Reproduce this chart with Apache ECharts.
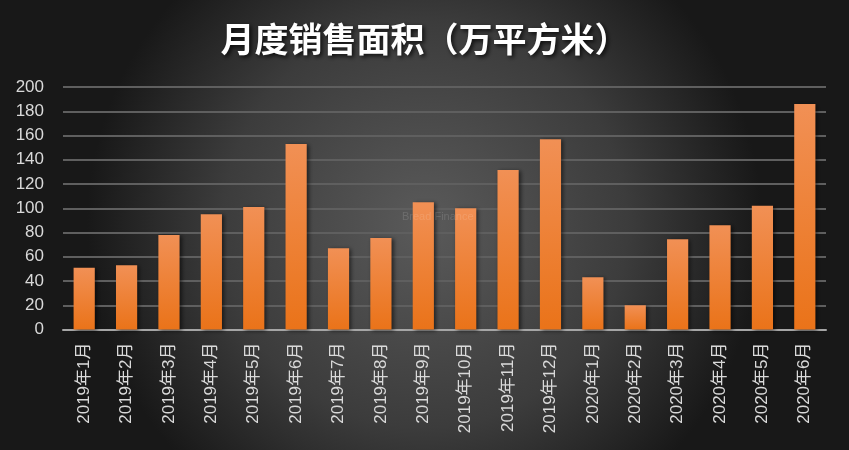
<!DOCTYPE html>
<html><head><meta charset="utf-8">
<script src="https://cdn.jsdelivr.net/npm/echarts@6/dist/echarts.min.js"></script>
<style>html,body{margin:0;padding:0;background:#2a2a2a}#c{width:849px;height:450px}</style>
</head><body><div id="c"></div>
<script>
const titleText = '月度销售面积（万平方米）';
const categories = ['2019年1月','2019年2月','2019年3月','2019年4月','2019年5月','2019年6月','2019年7月','2019年8月','2019年9月','2019年10月','2019年11月','2019年12月','2020年1月','2020年2月','2020年3月','2020年4月','2020年5月','2020年6月'];
const salesArea = [51, 53, 78, 95, 101, 153, 67, 75.5, 105, 100, 131.5, 157, 43, 20, 74.5, 86, 102, 186];
const yTicks = {min: 0, max: 200, interval: 20};

const chart = echarts.init(document.getElementById('c'), null, {renderer: 'canvas'});
chart.setOption({
  backgroundColor: {
    type: 'radial', x: 0.5, y: 0.5, r: 0.75,
    colorStops: [{offset: 0, color: '#5a5a5a'}, {offset: 0.6, color: '#3c3c3c'}, {offset: 1, color: '#181818'}]
  },
  animation: false,
  title: {
    text: titleText, left: 'center', top: 17,
    textStyle: {color: '#ffffff', fontSize: 34, fontWeight: 'bold', fontFamily: 'Noto Sans CJK SC',
      textShadowColor: 'rgba(0,0,0,0.8)', textShadowBlur: 4, textShadowOffsetX: 2, textShadowOffsetY: 2}
  },
  graphic: [{
    type: 'text', left: 402, top: 211, z: 100,
    style: {text: 'Bread Finance', fill: 'rgba(255,255,255,0.13)', font: '11px Liberation Sans'}
  }],
  grid: {left: 63, right: 23, top: 87, bottom: 120.5, containLabel: false},
  xAxis: {
    type: 'category', data: categories,
    axisLine: {lineStyle: {color: '#a6a6a6', width: 2}},
    axisTick: {show: false},
    axisLabel: {rotate: 90, color: '#d9d9d9', fontSize: 17, margin: 13, interval: 0,
      fontFamily: 'Liberation Sans, Noto Sans CJK SC'}
  },
  yAxis: {
    type: 'value', min: yTicks.min, max: yTicks.max, interval: yTicks.interval,
    axisLine: {show: false}, axisTick: {show: false},
    axisLabel: {color: '#d9d9d9', fontSize: 17, margin: 19, fontFamily: 'Liberation Sans'},
    splitLine: {lineStyle: {color: '#5f5f5f', width: 2}}
  },
  series: [{
    type: 'bar', data: salesArea, barCategoryGap: '50%', z: 2,
    itemStyle: {
      color: {type: 'linear', x: 0, y: 0, x2: 0, y2: 1,
        colorStops: [{offset: 0, color: '#f19055'}, {offset: 1, color: '#ea7319'}]},
      shadowColor: 'rgba(0,0,0,0.55)', shadowBlur: 4, shadowOffsetX: 2, shadowOffsetY: 1
    }
  }]
});
</script></body></html>
